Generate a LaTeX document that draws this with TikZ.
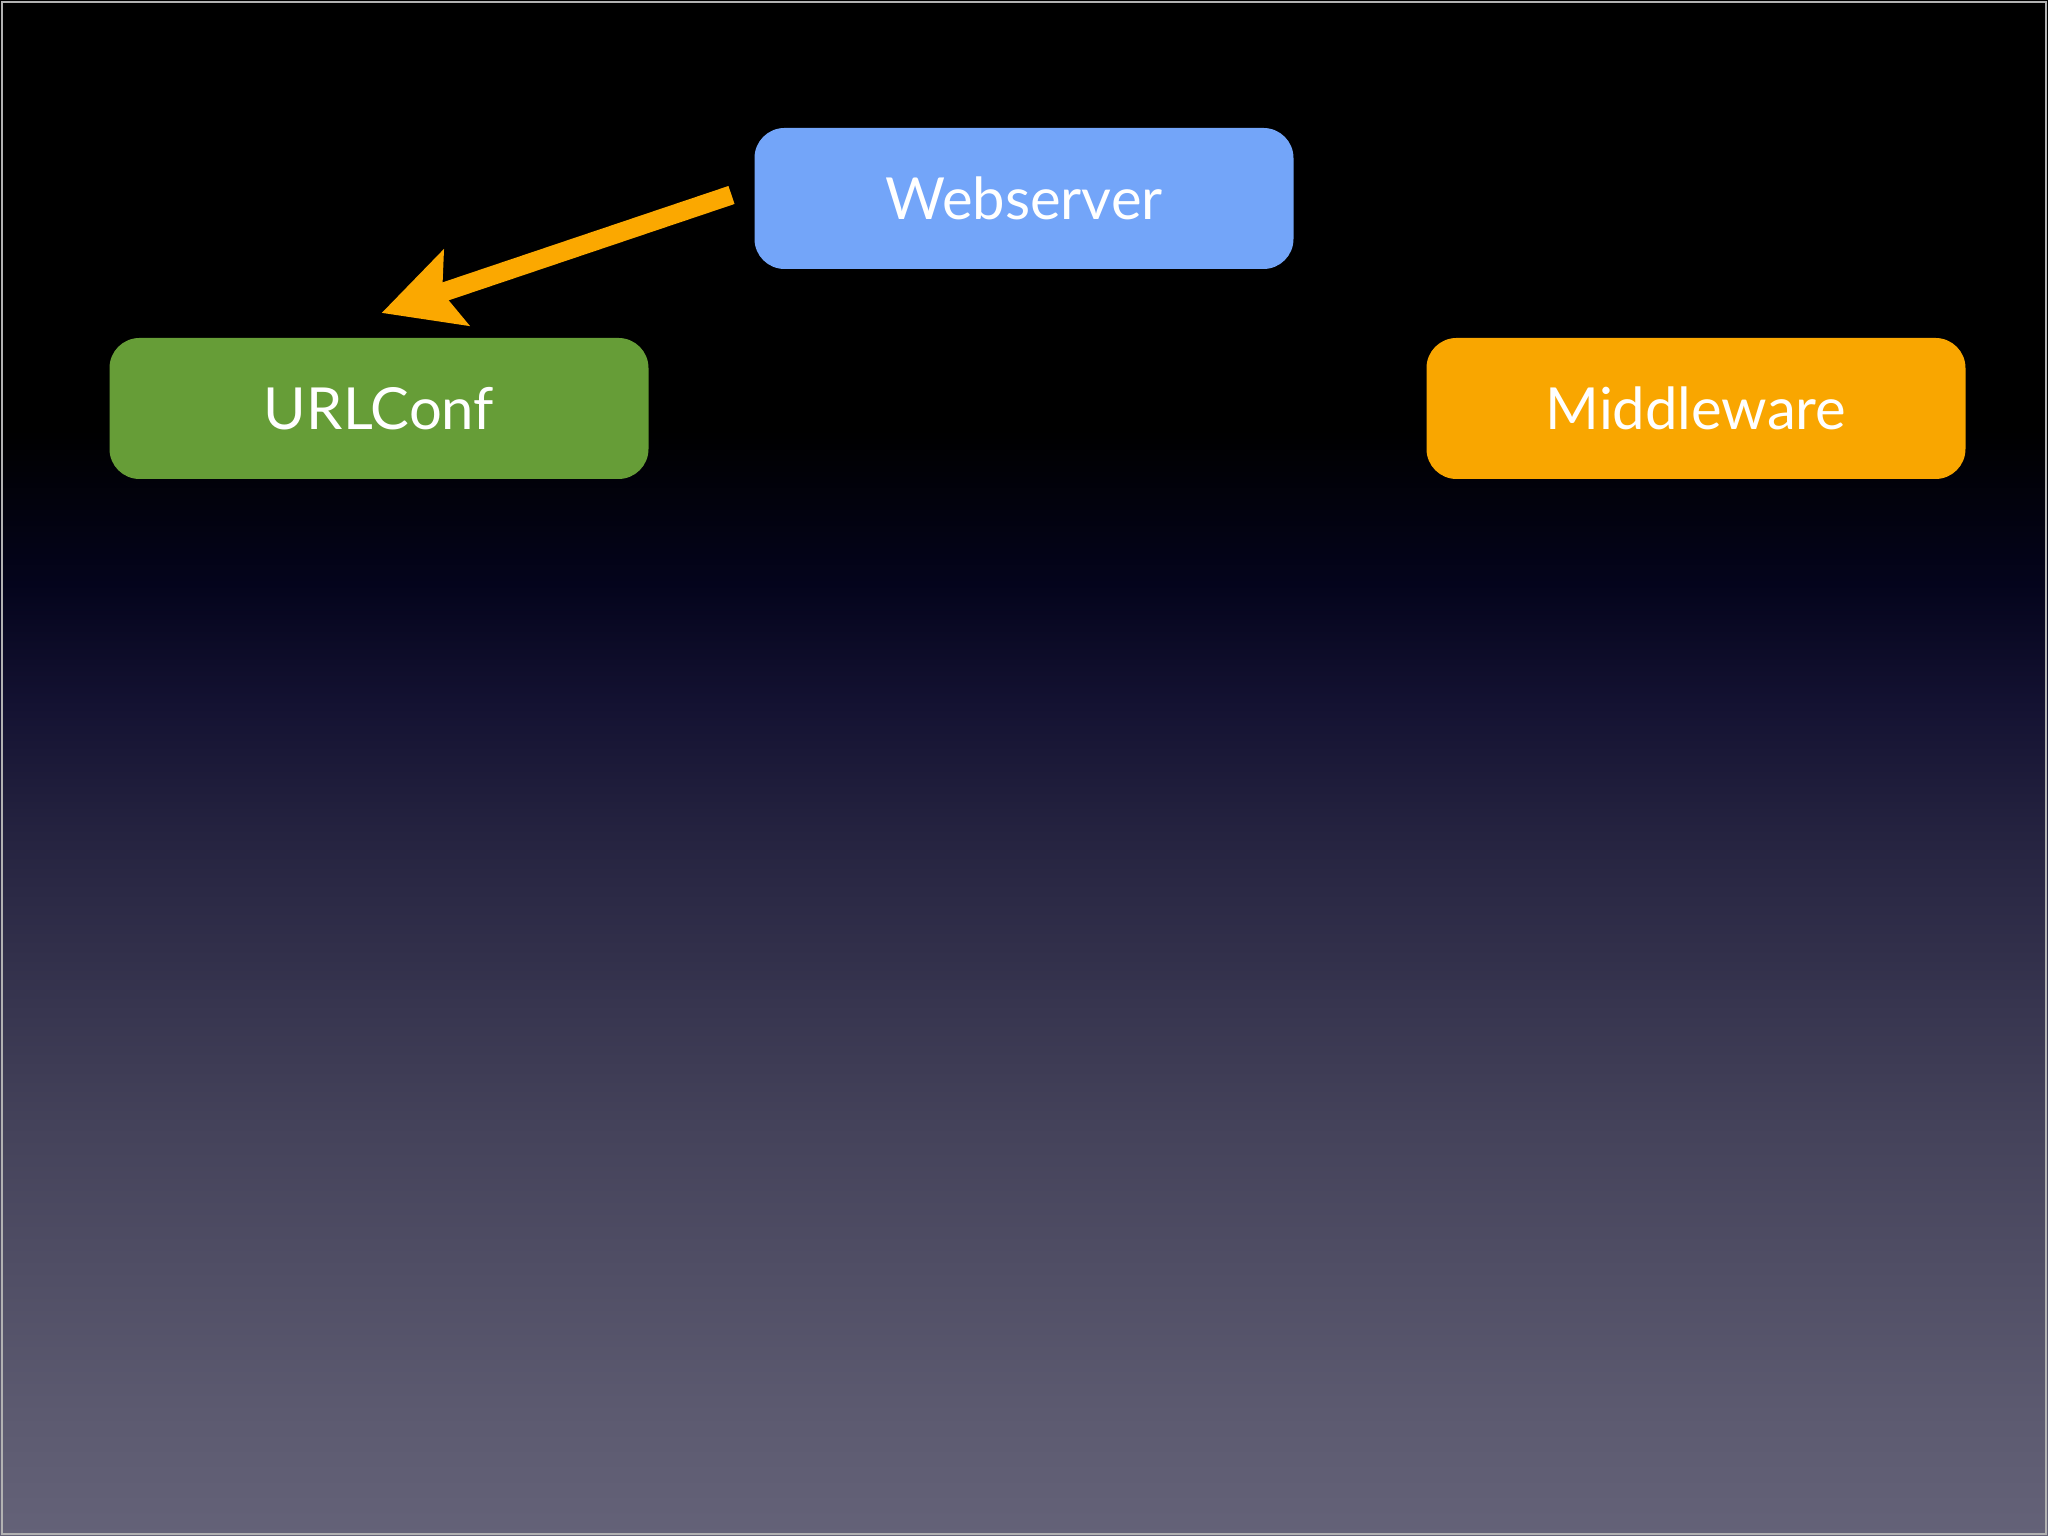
\documentclass[tikz,border=0pt]{standalone}
\usepackage{fontspec}
\setmainfont{Lato}
\usetikzlibrary{positioning,arrows.meta}

\definecolor{webblue}{RGB}{115,165,249}
\definecolor{urlgreen}{RGB}{102,157,55}
\definecolor{mworange}{RGB}{249,166,0}
\definecolor{arrorange}{RGB}{251,168,0}
\definecolor{bgA}{RGB}{4,4,28}
\definecolor{bgB}{RGB}{20,18,50}
\definecolor{bgC}{RGB}{37,35,64}
\definecolor{bgD}{RGB}{68,66,90}
\definecolor{bgE}{RGB}{92,90,112}
\definecolor{bgF}{RGB}{100,98,120}

\pgfdeclareverticalshading{slidebg}{100bp}{color(0bp)=(bgF); color(25bp)=(bgF);
  color(29bp)=(bgE); color(38.4bp)=(bgD); color(47.8bp)=(bgC); color(52bp)=(bgB);
  color(56bp)=(bgA); color(61bp)=(black); color(75bp)=(black); color(100bp)=(black)}

\begin{document}
\begin{tikzpicture}[>=Stealth,semithick]
  \tikzstyle{every node}=[font=\fontsize{16.5}{19}\selectfont]
  \tikzstyle{layer}=[rectangle,rounded corners=0.3cm,minimum width=5.39cm,minimum height=1.41cm,
                     inner sep=0pt,outer sep=0pt,text=white]

  %--- Background ---
  \shade[shading=slidebg] (0,0) rectangle (20.48,15.36);
  \draw[gray!60,line width=0.8pt] (0.02,0.02) rectangle (20.46,15.34);
  \useasboundingbox (0,0) rectangle (20.48,15.36);

  %--- Layers ---
  \node[layer, fill=webblue]   (web)  at (10.24,13.375) {Webserver};
  \node[layer, fill=urlgreen]  (urls) [below left=0.69cm and 1.06cm of web] {URLConf};
  \node[layer, fill=mworange]  (mw)   [below right=0.69cm and 1.33cm of web] {Middleware};

  %--- Request flow ---
  \coordinate (from) at ([xshift=-0.23cm,yshift=0.035cm]web.west);
  \coordinate (hit)  at ([xshift=0.025cm,yshift=0.25cm]urls.north);
  \draw[->, arrorange, line width=0.19cm,
        >={Stealth[length=0.78cm,width=0.78cm,inset=0.14cm]}]
    (from) -- (hit);
\end{tikzpicture}
\end{document}
